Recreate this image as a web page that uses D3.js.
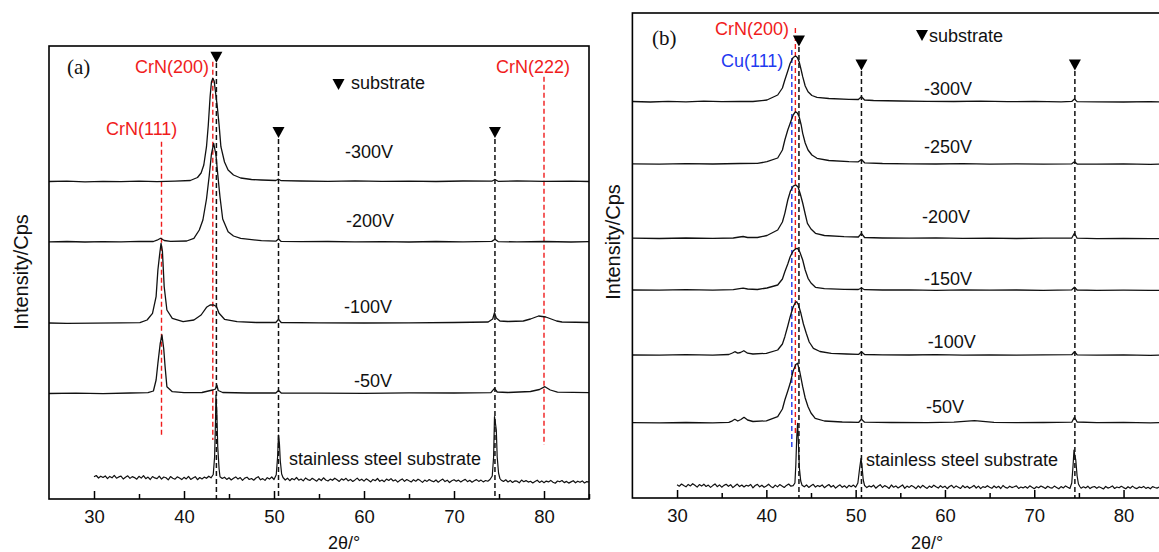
<!DOCTYPE html>
<html>
<head>
<meta charset="utf-8">
<script src="https://cdn.jsdelivr.net/npm/d3@7"></script>
<style>
  body { margin: 0; background: #fff; }
  svg { display: block; font-family: "Liberation Sans", Arial, sans-serif; }
  .serif { font-family: "Liberation Serif", "Times New Roman", serif; }
</style>
</head>
<body>
<svg id="chart" width="1159" height="552"></svg>
<script>
// ---------- shared axis data ----------
const angleTicks = [30, 40, 50, 60, 70, 80];
const angleMinorTicks = [35, 45, 55, 65, 75, 85];

// ---------- panel (a): XRD patterns, CrN films (2θ, intensity incl. stack offset) ----------
const a_labelsFilm = ["-300V", "-200V", "-100V", "-50V"];

const a_m300 = [[25,3175],[27,3178],[29,3172],[31,3177],[33,3174],[35,3179],[37,3173],[39,3178],[40.7,3185],[41.5,3215],[41.9,3260],[42.2,3340],[42.5,3523],[42.7,3740],[42.9,4023],[43.05,4170],[43.2,4207],[43.35,4180],[43.5,4070],[43.7,3923],[43.9,3740],[44.1,3523],[44.5,3370],[44.9,3290],[45.5,3240],[46.3,3210],[47.5,3195],[48.6,3190],[50.2,3185],[50.5,3198],[50.8,3183],[53,3180],[56,3177],[59,3181],[62,3176],[65,3179],[68,3175],[71,3180],[74.2,3178],[74.55,3195],[74.9,3177],[77,3181],[80,3176],[83,3179],[85,3175]];

const a_m200 = [[25,2572],[27,2575],[29,2570],[31,2574],[33,2571],[35,2576],[36.6,2575],[37.0,2588],[37.4,2607],[37.8,2585],[38.5,2576],[40.3,2580],[41.1,2607],[41.7,2690],[42.1,2790],[42.5,3000],[42.8,3230],[43.05,3450],[43.3,3557],[43.55,3440],[43.8,3200],[44.0,3020],[44.3,2800],[44.9,2673],[45.5,2630],[46.3,2607],[48.6,2583],[50.2,2578],[50.5,2600],[50.8,2576],[53,2573],[56,2575],[59,2571],[62,2574],[65,2570],[68,2575],[71,2572],[74.2,2576],[74.55,2597],[74.9,2574],[77,2571],[80,2575],[83,2570],[85,2573]];

const a_m100 = [[25,1760],[27,1756],[30,1758],[33,1762],[35.1,1763],[35.9,1790],[36.5,1857],[36.9,2023],[37.1,2290],[37.3,2450],[37.45,2557],[37.6,2480],[37.8,2123],[38.1,1890],[38.7,1807],[39.9,1773],[41.1,1790],[41.9,1840],[42.5,1917],[42.9,1940],[43.3,1940],[43.6,1925],[43.9,1857],[44.5,1797],[45.9,1773],[48,1765],[50.2,1765],[50.5,1797],[50.8,1765],[55,1762],[60,1760],[65,1762],[70,1765],[73.8,1770],[74.3,1800],[74.5,1863],[74.7,1810],[75.1,1780],[76,1775],[77.7,1780],[78.5,1800],[79.4,1830],[80.2,1820],[81.4,1780],[82,1770],[85,1765]];

const a_m50 = [[25,1055],[28,1058],[31,1054],[34,1060],[36.0,1063],[36.6,1080],[36.9,1190],[37.1,1357],[37.35,1550],[37.55,1640],[37.75,1500],[37.9,1323],[38.1,1123],[38.7,1073],[40,1063],[42,1065],[42.7,1080],[43.2,1090],[43.5,1100],[43.65,1140],[43.8,1085],[44.3,1065],[47,1060],[50.2,1060],[50.5,1085],[50.8,1060],[55,1058],[60,1057],[65,1061],[70,1060],[74.1,1063],[74.5,1107],[74.8,1070],[76,1065],[78.5,1075],[79.5,1095],[80.1,1123],[80.7,1090],[81.5,1068],[85,1063]];

const a_steel = [[30,222],[30.25,235],[30.5,210],[30.75,228],[31,215],[31.25,231],[31.5,204],[31.75,226],[32,212],[32.25,236],[32.5,208],[32.75,221],[33,229],[33.25,200],[33.5,218],[33.75,232],[34,206],[34.25,224],[34.5,214],[34.75,198],[35,227],[35.25,209],[35.5,233],[35.75,203],[36,219],[36.25,195],[36.5,225],[36.75,211],[37,204],[37.25,228],[37.5,199],[37.75,220],[38,213],[38.25,191],[38.5,224],[38.75,207],[39,198],[39.25,222],[39.5,209],[39.75,194],[40,217],[40.25,201],[40.5,226],[40.75,196],[41,210],[41.25,223],[41.5,193],[41.75,215],[42,200],[42.25,219],[42.5,207],[42.75,228],[43,212],[43.25,245],[43.4,420],[43.5,780],[43.55,1040],[43.65,860],[43.75,520],[43.9,300],[44,222],[44.25,205],[44.5,218],[44.75,196],[45,212],[45.25,190],[45.5,207],[45.75,221],[46,199],[46.25,214],[46.5,186],[46.75,209],[47,218],[47.25,195],[47.5,205],[47.75,188],[48,210],[48.25,223],[48.5,192],[48.75,204],[49,186],[49.25,213],[49.5,199],[49.75,220],[50,195],[50.25,242],[50.4,420],[50.5,640],[50.6,560],[50.7,380],[50.85,250],[51,215],[51.25,190],[51.5,208],[51.75,183],[52,205],[52.25,192],[52.5,215],[52.75,188],[53,200],[53.25,181],[53.5,210],[53.75,194],[54,186],[54.25,207],[54.5,192],[54.75,178],[55,203],[55.25,185],[55.5,212],[55.75,190],[56,180],[56.25,199],[56.5,187],[56.75,208],[57,193],[57.25,176],[57.5,201],[57.75,189],[58,207],[58.25,182],[58.5,196],[58.75,175],[59,191],[59.25,209],[59.5,184],[59.75,198],[60,179],[60.25,202],[60.5,188],[60.75,171],[61,196],[61.25,183],[61.5,205],[61.75,177],[62,190],[62.25,173],[62.5,199],[62.75,185],[63,204],[63.25,180],[63.5,192],[63.75,169],[64,187],[64.25,201],[64.5,176],[64.75,195],[65,182],[65.25,170],[65.5,193],[65.75,178],[66,198],[66.25,184],[66.5,166],[66.75,189],[67,176],[67.25,195],[67.5,181],[67.75,172],[68,190],[68.25,168],[68.5,186],[68.75,199],[69,174],[69.25,188],[69.5,165],[69.75,183],[70,193],[70.25,177],[70.5,189],[70.75,170],[71,185],[71.25,196],[71.5,173],[71.75,187],[72,168],[72.25,182],[72.5,194],[72.75,176],[73,189],[73.25,171],[73.5,185],[73.75,178],[74,195],[74.25,230],[74.4,420],[74.5,823],[74.6,760],[74.7,690],[74.8,420],[74.95,260],[75.1,205],[75.25,188],[75.5,176],[75.75,192],[76,170],[76.25,186],[76.5,165],[76.75,181],[77,178],[77.25,162],[77.5,189],[77.75,173],[78,184],[78.25,169],[78.5,177],[78.75,160],[79,175],[79.25,188],[79.5,166],[79.75,181],[80,163],[80.25,179],[80.5,171],[80.75,186],[81,168],[81.25,158],[81.5,180],[81.75,172],[82,185],[82.25,164],[82.5,176],[82.75,159],[83,171],[83.25,183],[83.5,162],[83.75,178],[84,167],[84.25,181],[84.5,160],[84.75,174],[85,170]];

// reference peak positions, panel (a)
const a_substratePeaks = [43.6, 50.5, 74.55];
const a_crnPeaks = [37.5, 43.2, 80.0];
const a_crnLabels = ["CrN(111)", "CrN(200)", "CrN(222)"];

// ---------- panel (b): XRD patterns, Cu-doped films ----------
const b_labelsFilm = ["-300V", "-250V", "-200V", "-150V", "-100V", "-50V"];

const b_m300 = [[25,3965],[27,3960],[29,3966],[31,3962],[33,3968],[35,3963],[37,3967],[38.5,3965],[40.07,3980],[41.27,4030],[41.8,4100],[42.07,4180],[42.4,4270],[42.67,4347],[43.0,4405],[43.27,4420],[43.47,4405],[43.67,4363],[43.9,4280],[44.07,4213],[44.35,4120],[44.67,4063],[45.1,4025],[45.67,4007],[47,3995],[49.25,3987],[50.3,3985],[50.65,4013],[51.0,3980],[52,3975],[55,3970],[58,3967],[61,3965],[64,3968],[67,3963],[70,3966],[73,3962],[74.2,3966],[74.5,3990],[74.8,3964],[77,3962],[80,3960],[83,3963],[85,3958]];

const b_m250 = [[25,3342],[28,3338],[31,3344],[34,3340],[37,3345],[39,3346],[40.07,3363],[41.27,3400],[41.8,3480],[42.07,3580],[42.4,3680],[42.67,3747],[43.0,3830],[43.27,3863],[43.47,3850],[43.67,3813],[43.9,3730],[44.07,3647],[44.35,3550],[44.67,3480],[45.1,3430],[45.67,3397],[47,3375],[49.25,3363],[50.3,3362],[50.65,3385],[51.0,3352],[53,3345],[56,3342],[59,3340],[62,3343],[65,3338],[68,3341],[71,3339],[74.2,3342],[74.5,3363],[74.8,3340],[77,3338],[80,3341],[83,3337],[85,3339]];

const b_m200 = [[25,2598],[28,2595],[31,2600],[34,2596],[36.3,2600],[37.0,2610],[37.4,2615],[37.9,2605],[39,2605],[40.07,2625],[41.27,2680],[41.8,2760],[42.07,2847],[42.4,2980],[42.7,3070],[43.0,3118],[43.3,3130],[43.55,3110],[43.8,3040],[44.07,2950],[44.35,2840],[44.6,2747],[45.0,2690],[45.5,2647],[46.5,2625],[48.7,2613],[50.3,2610],[50.65,2647],[51.0,2605],[53,2600],[56,2598],[59,2601],[62,2596],[65,2599],[68,2595],[71,2598],[74.2,2600],[74.5,2647],[74.8,2598],[77,2594],[80,2597],[83,2593],[85,2596]];

const b_m150 = [[25,2080],[28,2078],[31,2083],[34,2079],[36.3,2083],[37.0,2093],[37.4,2098],[37.9,2090],[39,2085],[40.07,2100],[41.27,2130],[41.8,2190],[42.07,2263],[42.4,2340],[42.67,2413],[43.0,2470],[43.3,2493],[43.5,2497],[43.75,2460],[44.07,2380],[44.35,2280],[44.67,2197],[45.0,2150],[45.5,2107],[46.5,2093],[48.7,2087],[50.3,2085],[50.65,2100],[51.0,2083],[53,2080],[56,2082],[59,2077],[62,2081],[65,2078],[68,2080],[71,2076],[74.2,2082],[74.5,2107],[74.8,2080],[77,2077],[80,2079],[83,2076],[85,2078]];

const b_m100 = [[25,1430],[28,1428],[31,1433],[34,1429],[35.8,1435],[36.2,1450],[36.47,1463],[36.8,1448],[37.1,1455],[37.48,1473],[37.9,1448],[38.5,1440],[40,1447],[41.27,1480],[41.8,1540],[42.07,1613],[42.4,1720],[42.67,1813],[43.0,1910],[43.25,1955],[43.4,1963],[43.6,1930],[43.87,1847],[44.15,1740],[44.47,1647],[44.8,1560],[45.27,1497],[46,1465],[47.27,1447],[49,1440],[50.35,1437],[50.65,1463],[51.0,1435],[53,1432],[56,1430],[59,1434],[62,1429],[65,1432],[68,1428],[71,1431],[74.2,1433],[74.5,1463],[74.8,1432],[77,1428],[80,1431],[83,1427],[85,1430]];

const b_m50 = [[25,753],[28,751],[31,755],[34,752],[35.8,757],[36.2,772],[36.47,787],[36.8,770],[37.15,785],[37.5,807],[37.9,780],[38.5,765],[40,772],[41.27,813],[41.8,890],[42.07,980],[42.4,1070],[42.67,1147],[43.0,1270],[43.3,1335],[43.5,1347],[43.75,1260],[44.07,1113],[44.35,1000],[44.67,913],[45.0,850],[45.47,797],[46.5,770],[48.5,760],[50.35,757],[50.65,787],[51.0,758],[54,755],[58,753],[61,758],[63.3,773],[65.5,757],[68,753],[71,755],[74.2,758],[74.5,807],[74.8,760],[77,754],[80,756],[83,752],[85,754]];

const b_steel = [[30,132],[30.25,118],[30.5,140],[30.75,125],[31,112],[31.25,136],[31.5,121],[31.75,143],[32,127],[32.25,109],[32.5,134],[32.75,119],[33,138],[33.25,115],[33.5,129],[33.75,106],[34,124],[34.25,141],[34.5,113],[34.75,131],[35,108],[35.25,126],[35.5,137],[35.75,117],[36,133],[36.25,104],[36.5,122],[36.75,139],[37,114],[37.25,130],[37.5,110],[37.75,127],[38,119],[38.25,135],[38.5,102],[38.75,125],[39,136],[39.25,112],[39.5,128],[39.75,107],[40,121],[40.25,138],[40.5,116],[40.75,103],[41,129],[41.25,111],[41.5,134],[41.75,120],[42,105],[42.25,126],[42.5,140],[42.75,118],[43,124],[43.2,150],[43.3,330],[43.4,600],[43.5,747],[43.6,520],[43.7,300],[43.85,170],[44,128],[44.25,112],[44.5,130],[44.75,106],[45,123],[45.25,137],[45.5,109],[45.75,125],[46,114],[46.25,131],[46.5,103],[46.75,120],[47,135],[47.25,110],[47.5,126],[47.75,99],[48,118],[48.25,132],[48.5,107],[48.75,122],[49,101],[49.25,127],[49.5,113],[49.75,129],[50,108],[50.25,150],[50.45,300],[50.6,397],[50.7,330],[50.85,180],[51,125],[51.25,104],[51.5,121],[51.75,110],[52,128],[52.25,98],[52.5,117],[52.75,133],[53,105],[53.25,124],[53.5,112],[53.75,96],[54,130],[54.25,108],[54.5,121],[54.75,100],[55,116],[55.25,131],[55.5,97],[55.75,119],[56,106],[56.25,125],[56.5,113],[56.75,94],[57,122],[57.25,102],[57.5,127],[57.75,110],[58,96],[58.25,119],[58.5,105],[58.75,128],[59,112],[59.25,99],[59.5,123],[59.75,104],[60,118],[60.25,93],[60.5,115],[60.75,126],[61,101],[61.25,121],[61.5,108],[61.75,95],[62,124],[62.25,103],[62.5,117],[62.75,97],[63,111],[63.25,126],[63.5,100],[63.75,119],[64,94],[64.25,114],[64.5,105],[64.75,123],[65,108],[65.25,97],[65.5,120],[65.75,102],[66,117],[66.25,95],[66.5,125],[66.75,106],[67,99],[67.25,118],[67.5,104],[67.75,112],[68,121],[68.25,96],[68.5,110],[68.75,101],[69,115],[69.25,98],[69.5,122],[69.75,107],[70,93],[70.25,113],[70.5,102],[70.75,120],[71,109],[71.25,95],[71.5,117],[71.75,104],[72,99],[72.25,119],[72.5,106],[72.75,92],[73,114],[73.25,100],[73.5,121],[73.75,108],[74,96],[74.2,150],[74.35,330],[74.45,480],[74.55,420],[74.65,380],[74.8,220],[74.95,140],[75.1,115],[75.25,98],[75.5,112],[75.75,101],[76,118],[76.25,94],[76.5,109],[76.75,115],[77,97],[77.25,112],[77.5,103],[77.75,90],[78,116],[78.25,99],[78.5,108],[78.75,121],[79,95],[79.25,110],[79.5,102],[79.75,117],[80,104],[80.25,92],[80.5,113],[80.75,98],[81,119],[81.25,101],[81.5,94],[81.75,111],[82,103],[82.25,116],[82.5,96],[82.75,107],[83,92],[83.25,114],[83.5,105],[83.75,99],[84,110],[84.25,95],[84.5,112],[84.75,101],[85,106]];

// reference peak positions, panel (b)
const b_substratePeaks = [43.65, 50.65, 74.55];
const b_crnPeak = 43.25;
const b_cuPeak = 42.85;

// ---------- drawing ----------
const svg = d3.select("#chart");
const RED = "#f01c1c", BLUE = "#1f3af0", INK = "#111";

function makePanel(p) {
  const x = d3.scaleLinear().domain([25, 85]).range([p.left, p.right]);
  const y = d3.scaleLinear().domain([0, p.yMax]).range([p.bottom, p.top]);
  const g = svg.append("g");

  // reference lines (drawn first, traces above)
  p.refs.forEach(r => {
    g.append("line")
      .attr("x1", x(r.pos)).attr("x2", x(r.pos))
      .attr("y1", y(r.from)).attr("y2", y(r.to))
      .attr("stroke", r.color).attr("stroke-width", r.color === INK ? 1.5 : 1.4)
      .attr("stroke-dasharray", "5,3");
  });

  // substrate markers
  p.markers.forEach(m => {
    const cx = x(m.pos), ty = y(m.level);
    g.append("path")
      .attr("d", `M${cx - 6},${ty}L${cx + 6},${ty}L${cx},${ty + 11}Z`)
      .attr("fill", "#000");
  });

  // diffraction traces
  const line = d3.line().x(d => x(d[0])).y(d => y(d[1]));
  p.series.forEach(s => {
    g.append("path").datum(s.data)
      .attr("d", line)
      .attr("fill", "none")
      .attr("stroke", INK)
      .attr("stroke-width", s.noisy ? 1.2 : 1.3)
      .attr("stroke-linejoin", "round");
  });

  // frame
  g.append("rect")
    .attr("x", p.left).attr("y", p.top)
    .attr("width", p.right - p.left).attr("height", p.bottom - p.top)
    .attr("fill", "none").attr("stroke", "#000").attr("stroke-width", 1.6);

  // bottom axis: major ticks with labels, minor ticks, all pointing inward
  const ax = g.append("g").attr("transform", `translate(0,${p.bottom})`)
    .call(d3.axisBottom(x).tickValues(angleTicks).tickFormat(d3.format("d"))
      .tickSizeInner(-8).tickSizeOuter(0).tickPadding(11));
  ax.attr("font-family", null).attr("font-size", null);
  ax.select(".domain").remove();
  ax.selectAll("line").attr("stroke", "#000").attr("stroke-width", 1.5);
  ax.selectAll("text").style("font-size", "18.5px").attr("fill", "#111");

  const mx = g.append("g").attr("transform", `translate(0,${p.bottom})`)
    .call(d3.axisBottom(x).tickValues(angleMinorTicks).tickFormat("")
      .tickSizeInner(-5).tickSizeOuter(0));
  mx.select(".domain").remove();
  mx.selectAll("line").attr("stroke", "#000").attr("stroke-width", 1.5);

  // annotations in data coordinates
  p.texts.forEach(t => {
    g.append("text")
      .attr("class", t.serif ? "serif" : null)
      .attr("x", x(t.at[0])).attr("y", y(t.at[1]))
      .style("font-size", (t.size || 18) + "px")
      .attr("fill", t.color || "#111")
      .text(t.text);
  });

  // axis titles
  g.append("text")
    .attr("x", p.xTitleX).attr("y", 549)
    .attr("text-anchor", "middle").style("font-size", "18px").attr("fill", "#111")
    .text("2θ/°");
  g.append("text")
    .attr("transform", `translate(${p.yTitleX},${p.yTitleY}) rotate(-90)`)
    .attr("text-anchor", "middle").attr("dominant-baseline", "central")
    .style("font-size", "20px").attr("fill", "#111")
    .text("Intensity/Cps");

  return { x, y };
}

// panel (a)
makePanel({
  left: 49, right: 589, top: 46, bottom: 499, yMax: 4530,
  xTitleX: 344, yTitleX: 21, yTitleY: 272,
  series: [
    { data: a_m300 }, { data: a_m200 }, { data: a_m100 }, { data: a_m50 },
    { data: a_steel, noisy: true }
  ],
  refs: [
    { pos: a_crnPeaks[0], from: 3573, to: 623, color: RED },
    { pos: a_crnPeaks[1], from: 4373, to: 590, color: RED },
    { pos: a_crnPeaks[2], from: 4223, to: 540, color: RED },
    { pos: a_substratePeaks[0], from: 4360, to: 0, color: INK },
    { pos: a_substratePeaks[1], from: 3600, to: 0, color: INK },
    { pos: a_substratePeaks[2], from: 3600, to: 0, color: INK }
  ],
  markers: [
    { pos: a_substratePeaks[0], level: 4473 },
    { pos: a_substratePeaks[1], level: 3720 },
    { pos: a_substratePeaks[2], level: 3720 },
    { pos: 57.17, level: 4200 }
  ],
  texts: [
    { text: "(a)", at: [27.0, 4255], serif: true, size: 21 },
    { text: a_crnLabels[1], at: [34.56, 4263], color: RED },
    { text: a_crnLabels[2], at: [74.67, 4263], color: RED },
    { text: a_crnLabels[0], at: [31.33, 3640], color: RED },
    { text: "substrate", at: [58.56, 4100] },
    { text: a_labelsFilm[0], at: [57.89, 3407] },
    { text: a_labelsFilm[1], at: [58.0, 2723] },
    { text: a_labelsFilm[2], at: [57.78, 1857] },
    { text: a_labelsFilm[3], at: [58.89, 1123] },
    { text: "stainless steel substrate", at: [51.67, 340] }
  ]
});

// panel (b)
makePanel({
  left: 632.4, right: 1168.2, top: 13, bottom: 498, yMax: 4850,
  xTitleX: 927, yTitleX: 613, yTitleY: 242,
  series: [
    { data: b_m300 }, { data: b_m250 }, { data: b_m200 }, { data: b_m150 },
    { data: b_m100 }, { data: b_m50 }, { data: b_steel, noisy: true }
  ],
  refs: [
    { pos: b_cuPeak, from: 4480, to: 510, color: BLUE },
    { pos: b_crnPeak, from: 4700, to: 650, color: RED },
    { pos: b_substratePeaks[0], from: 4510, to: 0, color: INK },
    { pos: b_substratePeaks[1], from: 4270, to: 0, color: INK },
    { pos: b_substratePeaks[2], from: 4270, to: 0, color: INK }
  ],
  markers: [
    { pos: b_substratePeaks[0], level: 4625 },
    { pos: b_substratePeaks[1], level: 4385 },
    { pos: b_substratePeaks[2], level: 4385 },
    { pos: 57.43, level: 4680 }
  ],
  texts: [
    { text: "(b)", at: [27.19, 4535], serif: true, size: 21 },
    { text: "CrN(200)", at: [34.25, 4630], color: RED },
    { text: "Cu(111)", at: [34.92, 4313], color: BLUE },
    { text: "substrate", at: [58.21, 4563] },
    { text: b_labelsFilm[0], at: [57.65, 4030] },
    { text: b_labelsFilm[1], at: [57.65, 3447] },
    { text: b_labelsFilm[2], at: [57.43, 2747] },
    { text: b_labelsFilm[3], at: [57.65, 2130] },
    { text: b_labelsFilm[4], at: [58.06, 1497] },
    { text: b_labelsFilm[5], at: [57.88, 847] },
    { text: "stainless steel substrate", at: [51.16, 320] }
  ]
});
</script>
</body>
</html>
